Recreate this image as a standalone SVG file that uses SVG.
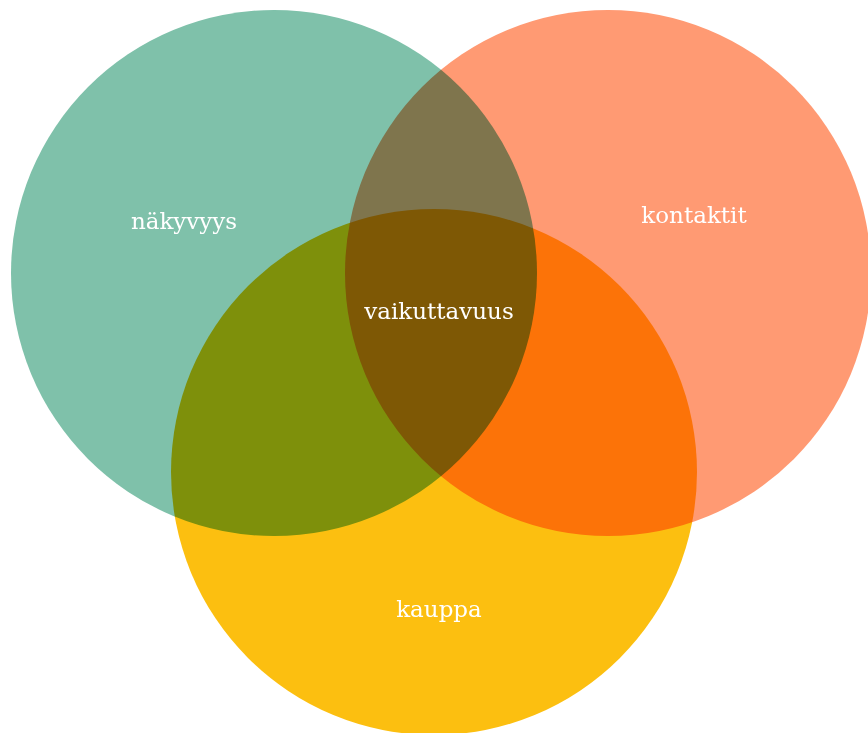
<svg xmlns="http://www.w3.org/2000/svg" width="868" height="733" viewBox="0 0 868 733">
<style>
.c{mix-blend-mode:multiply}
.t{font-family:"DejaVu Serif","Liberation Serif",serif;font-size:23px;fill:#ffffff;text-anchor:middle}
</style>
<rect width="868" height="733" fill="#ffffff"/>
<g style="isolation:isolate">
<g id="nakyvyys"><circle class="c" cx="274" cy="273" r="263" fill="#7fc1aa"/></g>
<g id="kontaktit"><circle class="c" cx="608" cy="273" r="263" fill="#ff9a73"/></g>
<g id="kauppa"><circle class="c" cx="434" cy="472" r="263" fill="#fcbf10"/></g>
</g>
<g id="connectors"></g>
<g id="labels">
<text class="t" x="184" y="229">näkyvyys</text>
<text class="t" x="694" y="223">kontaktit</text>
<text class="t" x="439" y="319">vaikuttavuus</text>
<text class="t" x="439" y="617">kauppa</text>
</g>
</svg>
